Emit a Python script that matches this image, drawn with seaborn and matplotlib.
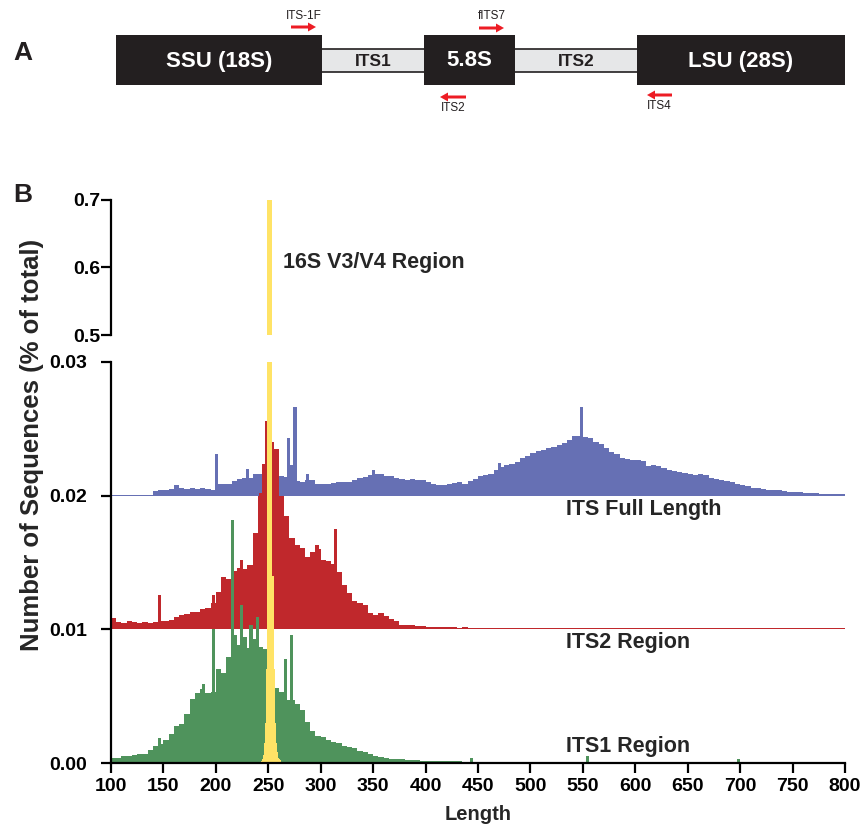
import numpy as np
import pandas as pd
import matplotlib.pyplot as plt
import seaborn as sns
from matplotlib.patches import Rectangle, FancyArrow

# ---- data (heights in units of 1e-3 % of total) ----
# 5 bp bins from 100 to 800
its_full = [
    0.06, 0.06, 0.06, 0.06, 0.06, 0.06, 0.06, 0.06, 0.35, 0.40,   # 100-145
    0.45, 0.50, 0.80, 0.60, 0.50, 0.55, 0.50, 0.55, 0.50, 0.45,   # 150-195
    0.85, 0.85, 0.85, 1.10, 1.25, 1.30, 1.35, 1.60, 1.60, 1.80,   # 200-245
    1.70, 1.50, 1.50, 1.40, 1.60, 1.10, 1.00, 1.20, 1.15, 0.90,   # 250-295
    0.85, 0.85, 0.95, 1.00, 1.00, 1.00, 1.20, 1.35, 1.40, 1.55,   # 300-345
    1.60, 1.60, 1.50, 1.45, 1.30, 1.25, 1.20, 1.25, 1.20, 1.15,   # 350-395
    1.05, 0.85, 0.80, 0.80, 0.85, 0.95, 1.00, 0.90, 1.10, 1.25,   # 400-445
    1.50, 1.55, 1.60, 1.90, 2.15, 2.30, 2.40, 2.50, 2.85, 3.00,   # 450-495
    3.20, 3.35, 3.45, 3.55, 3.65, 3.80, 3.95, 4.20, 4.45, 4.50,   # 500-545
    4.40, 4.30, 4.00, 3.90, 3.60, 3.30, 3.10, 2.85, 2.75, 2.70,   # 550-595
    2.65, 2.60, 2.25, 2.30, 2.20, 2.10, 1.90, 1.85, 1.75, 1.70,   # 600-645
    1.60, 1.55, 1.60, 1.55, 1.35, 1.25, 1.20, 1.10, 1.00, 0.90,   # 650-695
    0.80, 0.75, 0.60, 0.55, 0.50, 0.45, 0.40, 0.40, 0.35, 0.30,   # 700-745
    0.30, 0.25, 0.22, 0.20, 0.18, 0.16, 0.15, 0.12, 0.12, 0.10,   # 750-795
]
its2 = [
    0.85, 0.55, 0.50, 0.60, 0.55, 0.50, 0.55, 0.50, 0.55, 0.65,   # 100-145
    0.65, 0.70, 0.90, 1.05, 1.15, 1.30, 1.30, 1.55, 1.60, 2.00,   # 150-195
    2.80, 3.90, 3.80, 4.40, 4.60, 4.50, 4.80, 7.20, 10.0, 11.0,   # 200-245
    14.0, 13.5, 10.0, 8.50, 6.80, 6.30, 6.10, 5.40, 5.80, 6.00,   # 250-295
    5.20, 5.10, 4.90, 4.30, 3.30, 2.70, 2.10, 2.00, 1.80, 1.20,   # 300-345
    1.10, 1.20, 1.00, 0.80, 0.60, 0.35, 0.30, 0.30, 0.25, 0.25,   # 350-395
    0.20, 0.20, 0.20, 0.15, 0.15, 0.15, 0.12, 0.15, 0.10, 0.12,   # 400-445
    0.12, 0.10, 0.11, 0.12, 0.10, 0.10, 0.11, 0.10, 0.09, 0.10,   # 450-495
    0.10, 0.09, 0.10, 0.09, 0.10, 0.09, 0.09, 0.10, 0.09, 0.09,   # 500-545
    0.09, 0.09, 0.08, 0.09, 0.09, 0.08, 0.09, 0.08, 0.08, 0.09,   # 550-595
    0.08, 0.08, 0.08, 0.09, 0.08, 0.08, 0.08, 0.08, 0.08, 0.08,   # 600-645
    0.08, 0.08, 0.08, 0.08, 0.08, 0.08, 0.08, 0.08, 0.08, 0.08,   # 650-695
    0.08, 0.10, 0.08, 0.08, 0.08, 0.08, 0.08, 0.08, 0.08, 0.08,   # 700-745
    0.08, 0.08, 0.08, 0.08, 0.08, 0.08, 0.08, 0.08, 0.08, 0.09,   # 750-795
]
its1 = [
    0.35, 0.40, 0.50, 0.55, 0.60, 0.65, 0.70, 0.95, 1.25, 1.40,   # 100-145
    1.75, 2.20, 2.75, 2.90, 3.70, 4.80, 5.20, 5.50, 5.20, 5.30,   # 150-195
    7.00, 6.70, 7.90, 9.60, 8.80, 9.40, 8.60, 9.30, 8.70, 8.50,   # 200-245
    7.50, 5.60, 5.30, 4.70, 4.70, 4.45, 4.00, 3.10, 2.40, 2.00,   # 250-295
    1.95, 1.75, 1.60, 1.50, 1.25, 1.20, 1.10, 0.90, 0.85, 0.70,   # 300-345
    0.50, 0.45, 0.40, 0.32, 0.28, 0.27, 0.25, 0.24, 0.20, 0.18,   # 350-395
    0.17, 0.16, 0.15, 0.14, 0.13, 0.12, 0.12, 0.11, 0.11, 0.11,   # 400-445
    0.10, 0.09, 0.09, 0.10, 0.09, 0.09, 0.09, 0.08, 0.08, 0.09,   # 450-495
    0.08, 0.08, 0.08, 0.08, 0.08, 0.08, 0.08, 0.08, 0.08, 0.08,   # 500-545
    0.08, 0.08, 0.08, 0.07, 0.08, 0.07, 0.07, 0.07, 0.07, 0.07,   # 550-595
    0.07, 0.07, 0.07, 0.07, 0.07, 0.07, 0.07, 0.07, 0.07, 0.07,   # 600-645
    0.07, 0.07, 0.07, 0.07, 0.07, 0.07, 0.07, 0.07, 0.07, 0.07,   # 650-695
    0.07, 0.07, 0.07, 0.07, 0.06, 0.06, 0.06, 0.06, 0.06, 0.06,   # 700-745
    0.06, 0.06, 0.06, 0.06, 0.06, 0.06, 0.06, 0.06, 0.06, 0.06,   # 750-795
]

# single-length spikes (3 bp wide)
full_spike_pos = [199, 231, 269, 273, 275, 287, 349, 469, 549, 607]
full_spike_val = [3.10, 2.00, 4.35, 2.30, 6.64, 1.60, 1.95, 2.45, 6.64, 2.40]
its2_spike_pos = [145, 197, 223, 243, 245, 249, 297, 313]
its2_spike_val = [2.54, 2.54, 5.20, 10.2, 12.4, 15.6, 6.30, 7.50]
its1_spike_pos = [147, 187, 197, 215, 223, 233, 239, 267, 273, 443, 553, 699]
its1_spike_val = [1.90, 5.90, 10.05, 18.2, 11.8, 10.3, 10.9, 7.80, 9.55, 0.35, 0.50, 0.30]

# 16S V3/V4, 1 bp bins
v3v4_len = list(range(242, 264))
v3v4 = [0.10, 0.15, 0.30, 0.60, 1.50, 3.00, 7.00, 700, 700, 700, 700, 700,
        14.0, 7.00, 3.00, 1.50, 0.80, 0.40, 0.30, 0.20, 0.10, 0.05]

series_names = ['ITS Full Length', 'ITS2 Region', 'ITS1 Region']
colors = {'full': '#6670b4', 'its2': '#c0282c', 'its1': '#4f935c', 'v3v4': '#ffe366'}

# panel A schematic
regions = ['SSU (18S)', 'ITS1', '5.8S', 'ITS2', 'LSU (28S)']
region_edges = [116, 322, 424, 515, 637, 845]
primers = ['ITS-1F', 'fITS7', 'ITS2', 'ITS4']
primer_x = [(291, 316), (479, 504), (466, 440), (672, 647)]
primer_y = [27, 28, 97, 95]
primer_label_y = [16, 16, 108, 106]

# ---- style ----
sns.set_style('ticks')
plt.rcParams['font.family'] = ['Liberation Sans', 'DejaVu Sans']
plt.rcParams['font.weight'] = 'bold'
dark = '#262626'

W, H = 862, 826
fig = plt.figure(figsize=(W / 100, H / 100), dpi=100)


def px_box(left, top, right, bottom):
    return [left / W, 1 - bottom / H, (right - left) / W, (bottom - top) / H]


# overlay axes in pixel coordinates for the schematic and labels
ax_a = fig.add_axes([0, 0, 1, 1])
ax_a.set_xlim(0, W)
ax_a.set_ylim(H, 0)
ax_a.axis('off')

ax_top = fig.add_axes(px_box(111, 200, 845, 335))
ax = fig.add_axes(px_box(111, 362, 845, 763))

prof_edges = list(range(100, 801, 5))
prof_x = [e + 2.5 for e in prof_edges[:-1]]
spike_edges = list(range(100, 803, 3))


def stacked_hist(axis, x, vals, edges, base, color):
    n0 = len(axis.patches)
    df = pd.DataFrame({'length': np.asarray(x, dtype=float),
                       'share': np.asarray(vals, dtype=float) / 1000})
    sns.histplot(data=df, x='length', weights='share', bins=edges, ax=axis,
                 color=color, alpha=1, linewidth=0, edgecolor='none')
    for bar in axis.patches[n0:]:
        bar.set_y(base)


stacked_hist(ax, prof_x, its_full, prof_edges, 0.02, colors['full'])
stacked_hist(ax, full_spike_pos, full_spike_val, spike_edges, 0.02, colors['full'])
stacked_hist(ax, prof_x, its2, prof_edges, 0.01, colors['its2'])
stacked_hist(ax, its2_spike_pos, its2_spike_val, spike_edges, 0.01, colors['its2'])
stacked_hist(ax, prof_x, its1, prof_edges, 0.0, colors['its1'])
stacked_hist(ax, its1_spike_pos, its1_spike_val, spike_edges, 0.0, colors['its1'])

v3_edges = list(range(242, 265))
v3_x = [v + 0.5 for v in v3v4_len]
for a in (ax, ax_top):
    stacked_hist(a, v3_x, v3v4, v3_edges, 0.0, colors['v3v4'])

# axes formatting
for a in (ax, ax_top):
    a.set_xlim(100, 800)
    a.set_xlabel('')
    a.set_ylabel('')
    a.spines['right'].set_visible(False)
    a.spines['top'].set_visible(False)
    for s in a.spines.values():
        s.set_linewidth(1.6)
        s.set_color('black')
    a.tick_params(length=7, width=1.6, labelsize=14, colors='black')

ax.set_ylim(0, 0.03)
ax.set_yticks([0, 0.01, 0.02, 0.03])
ax.set_yticklabels(['0.00', '0.01', '0.02', '0.03'])
ax.set_xticks(np.arange(100, 801, 50))
ax.tick_params(axis='y', pad=10)
ax.tick_params(axis='x', pad=4)

ax_top.set_ylim(0.5, 0.7)
ax_top.set_yticks([0.5, 0.6, 0.7])
ax_top.set_yticklabels(['0.5', '0.6', '0.7'])
ax_top.spines['bottom'].set_visible(False)
ax_top.tick_params(axis='x', bottom=False, labelbottom=False)
ax_top.tick_params(axis='y', pad=1)

# series labels
label_y = [0.0190, 0.0090, 0.0012]
for name, ly in zip(series_names, label_y):
    ax.text(534, ly, name, fontsize=15.5, color=dark, ha='left', va='center')
ax_top.text(264, 0.608, '16S V3/V4 Region', fontsize=15.5, color=dark,
            ha='left', va='center')

# axis titles (pixel coords)
ax_a.text(32, 445, 'Number of Sequences (% of total)', rotation=90,
          fontsize=18.5, color=dark, ha='center', va='center')
ax_a.text(478, 815, 'Length', fontsize=14.5, color=dark, ha='center', va='center')

# ---- panel A ----
box_top, box_bot = 35, 85
gap_top, gap_bot = 49, 72
for i, name in enumerate(regions):
    x0, x1 = region_edges[i], region_edges[i + 1]
    if i % 2 == 0:
        ax_a.add_patch(Rectangle((x0, box_top), x1 - x0, box_bot - box_top,
                                 facecolor='#231f20', edgecolor='none', zorder=3))
        ax_a.text((x0 + x1) / 2, (box_top + box_bot) / 2 + 1, name, color='white',
                  fontsize=16, ha='center', va='center', zorder=4)
    else:
        ax_a.add_patch(Rectangle((x0 - 5, gap_top), x1 - x0 + 10, gap_bot - gap_top,
                                 facecolor='#e6e7e8', edgecolor='#231f20', lw=1.2, zorder=2))
        ax_a.text((x0 + x1) / 2, (gap_top + gap_bot) / 2 + 1, name, color='#231f20',
                  fontsize=12.5, ha='center', va='center', zorder=4)

for name, (xs, xe), py, ly in zip(primers, primer_x, primer_y, primer_label_y):
    ax_a.add_patch(FancyArrow(xs, py, xe - xs, 0, width=3, head_width=9,
                              head_length=8, length_includes_head=True,
                              color='#ed1c24', lw=0, zorder=5))
    ax_a.text((xs + xe) / 2, ly, name, fontsize=8.5, fontweight='normal',
              color='#231f20', ha='center', va='center')

ax_a.text(23, 53, 'A', fontsize=19, color='#231f20', ha='center', va='center')
ax_a.text(23, 195, 'B', fontsize=19, color='#231f20', ha='center', va='center')

fig.savefig('out.png', dpi=100)
